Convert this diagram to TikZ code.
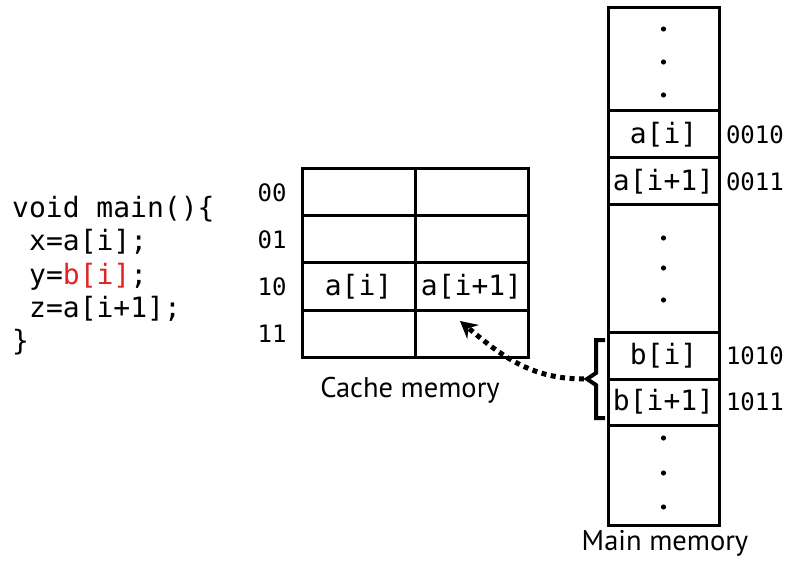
\documentclass[tikz,border=0pt]{standalone}
\usepackage{fontspec}
\setmainfont{PT Sans}
\setmonofont{DejaVu Sans Mono}
\usetikzlibrary{arrows.meta}

\definecolor{codered}{RGB}{224,36,36}

\tikzset{
	cell/.style={draw, line width=3pt, minimum height=47pt, inner sep=0pt, font=\ttfamily\fontsize{28}{30}\selectfont},
	addr/.style={font=\ttfamily\fontsize{24}{26}\selectfont},
	code/.style={anchor=base west, inner sep=0pt, font=\ttfamily\fontsize{28}{30}\selectfont},
	caption/.style={font=\fontsize{28.5}{30}\selectfont},
}

\begin{document}
\begin{tikzpicture}[x=1pt, y=-1pt]
	\useasboundingbox (0,0) rectangle (792,561);

	% the little program
	\node[code] (l0) at (12,218) {void main()\{};
	\node[code] (l1) at (29,251) {x=a[i];};
	\node[code] (l2) at (29,284) {y=\textcolor{codered}{b[i]};};
	\node[code] (l3) at (29,317) {z=a[i+1];};
	\node[code] (l4) at (12,350) {\}};

	% cache: 4 lines of 2 words
	\foreach \r/\tag/\left/\right in {0/00//, 1/01//, 2/10/a[i]/a[i+1], 3/11//} {
		\node[addr] (tag-\r) at (272, 192.5+47*\r) {\tag};
		\node[cell, minimum width=113pt] (c-\r-1) at (358.5, 192.5+47*\r) {\left};
		\node[cell, minimum width=113pt] (c-\r-2) at (471.5, 192.5+47*\r) {\right};
	}
	\node[caption] (cache) at (410,390) {Cache memory};

	% main memory column
	\foreach \n/\y/\h/\t in {top/59.5/103/, ai/134.5/47/a[i], aj/181.5/47/a[i+1], mid/268.5/127/,
			bi/355.5/47/b[i], bj/402/46/b[i+1], bot/475/100/} {
		\node[cell, minimum width=111pt, minimum height=\h pt] (m-\n) at (663.5,\y) {\t};
	}
	\foreach \y in {29,62,95,238,268,300,438,473,507}
		\fill (663.5,\y) circle (2.6pt);
	\node[addr, anchor=west] (ad-ai) at ([xshift=2pt]m-ai.east) {0010};
	\node[addr, anchor=west] (ad-aj) at ([xshift=2pt]m-aj.east) {0011};
	\node[addr, anchor=west] (ad-bi) at ([xshift=2pt]m-bi.east) {1010};
	\node[addr, anchor=west] (ad-bj) at ([xshift=2pt]m-bj.east) {1011};
	\node[caption] (main) at (665,543) {Main memory};

	% b[i], b[i+1] go to line 11
	\draw[line width=4pt] (605,340) -- (596,340) -- (596,373) -- (587,379) -- (596,385) -- (596,418) -- (605,418);
	\coordinate (nub) at (584,379);
	\coordinate (hit) at (460,321);
	\draw[line width=5pt, dash pattern=on 5pt off 4.5pt, -{Stealth[length=17pt, width=18pt, inset=6pt]}]
		(nub) to[out=180, in=-40] (hit);
\end{tikzpicture}
\end{document}
